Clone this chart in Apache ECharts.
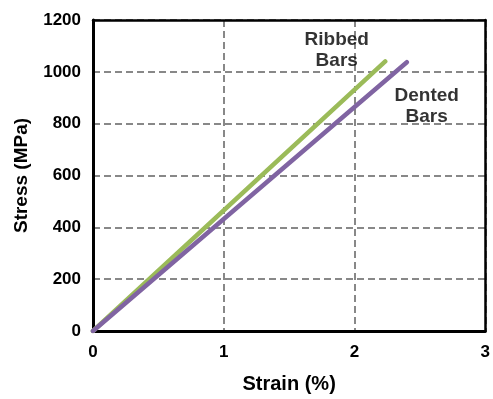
<!DOCTYPE html>
<html>
<head>
<meta charset="utf-8">
<script src="https://cdn.jsdelivr.net/npm/echarts@6/dist/echarts.min.js"></script>
<style>
html,body{margin:0;padding:0;background:#fff;}
#chart{width:493px;height:399px;}
</style>
</head>
<body>
<div id="chart"></div>
<script>
// Data
var ribbedStrain = [0, 2.235];
var ribbedStress = [0, 1040];
var dentedStrain = [0, 2.40];
var dentedStress = [0, 1037];
var xTicks = [0, 1, 2, 3];
var yTicks = [0, 200, 400, 600, 800, 1000, 1200];
var annotations = [
  {text: 'Ribbed\nBars', x: 1.864, y: 1082},
  {text: 'Dented\nBars', x: 2.552, y: 868}
];

var FONT = '"Liberation Sans", Arial, sans-serif';
var chart = echarts.init(document.getElementById('chart'), null, {renderer: 'canvas'});

function pairs(xs, ys) { return xs.map(function (x, i) { return [x, ys[i]]; }); }

var gridLine = {show: true, lineStyle: {color: '#888888', width: 2, type: [7, 4]}};
var plain = function (v) { return String(v); };

chart.setOption({
  animation: false,
  backgroundColor: '#ffffff',
  grid: {left: 93, top: 20, right: 5, bottom: 63},
  xAxis: [{
    type: 'value', min: xTicks[0], max: xTicks[xTicks.length - 1], interval: 1,
    name: 'Strain (%)', nameLocation: 'middle', nameGap: 43,
    nameTextStyle: {fontFamily: FONT, fontWeight: 'bold', fontSize: 20, color: '#000'},
    axisLine: {show: true, onZero: false, lineStyle: {color: '#000', width: 3}},
    axisTick: {show: false},
    axisLabel: {margin: 13, fontFamily: FONT, fontWeight: 'bold', fontSize: 17, color: '#000', formatter: plain},
    splitLine: gridLine
  }, {
    type: 'value', position: 'top', min: xTicks[0], max: xTicks[xTicks.length - 1], interval: 1,
    axisLine: {show: true, onZero: false, lineStyle: {color: '#000', width: 2.5}},
    axisTick: {show: false}, axisLabel: {show: false}, splitLine: {show: false}
  }],
  yAxis: [{
    type: 'value', min: yTicks[0], max: yTicks[yTicks.length - 1], interval: 200,
    name: 'Stress (MPa)', nameLocation: 'middle', nameGap: 62, nameRotate: 90,
    nameTextStyle: {fontFamily: FONT, fontWeight: 'bold', fontSize: 19, color: '#000'},
    axisLine: {show: true, onZero: false, lineStyle: {color: '#000', width: 3}},
    axisTick: {show: false},
    axisLabel: {margin: 12, fontFamily: FONT, fontWeight: 'bold', fontSize: 17, color: '#000', formatter: plain},
    splitLine: gridLine
  }, {
    type: 'value', position: 'right', min: yTicks[0], max: yTicks[yTicks.length - 1], interval: 200,
    axisLine: {show: true, onZero: false, lineStyle: {color: '#000', width: 2.5}},
    axisTick: {show: false}, axisLabel: {show: false}, splitLine: {show: false}
  }],
  series: [
    {
      name: 'Ribbed Bars', type: 'line', data: pairs(ribbedStrain, ribbedStress),
      showSymbol: false, symbol: 'none',
      lineStyle: {color: '#9BBB59', width: 4.5, cap: 'round'}, z: 3
    },
    {
      name: 'Dented Bars', type: 'line', data: pairs(dentedStrain, dentedStress),
      showSymbol: false, symbol: 'none',
      lineStyle: {color: '#8064A2', width: 4.5, cap: 'round'}, z: 4
    },
    {
      type: 'scatter', symbolSize: 0, silent: true, z: 5,
      data: annotations.map(function (a) { return {value: [a.x, a.y], label: {formatter: a.text}}; }),
      label: {show: true, position: 'inside', fontFamily: FONT, fontWeight: 'bold', fontSize: 19, lineHeight: 21, color: '#000', align: 'center', verticalAlign: 'middle'}
    }
  ]
});
</script>
</body>
</html>
